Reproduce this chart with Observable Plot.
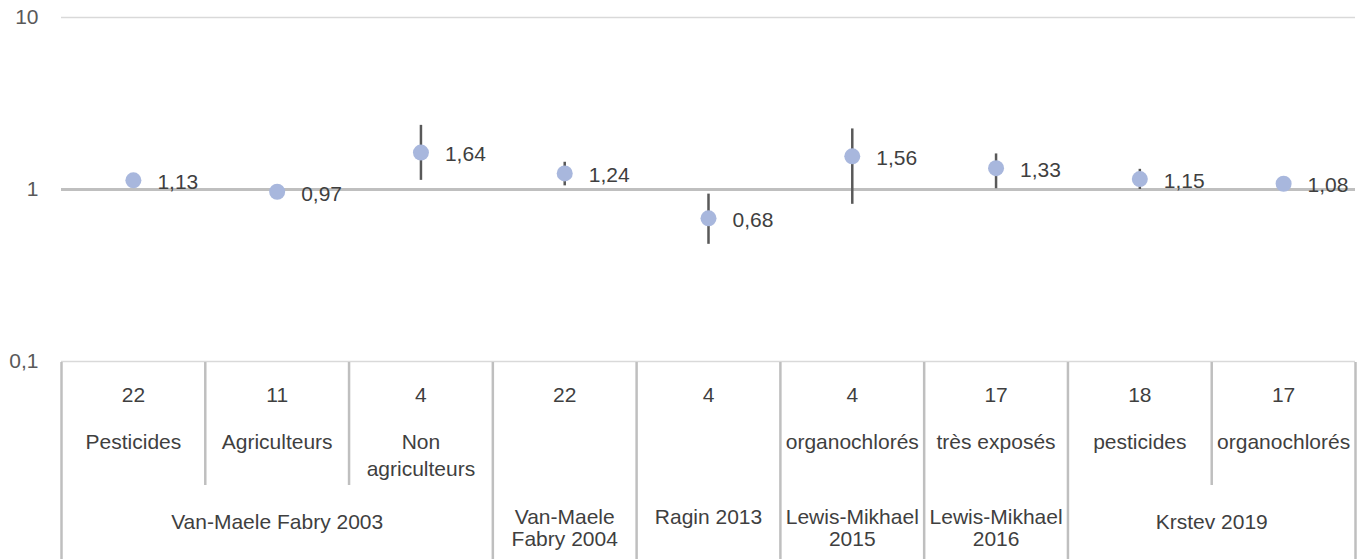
<!DOCTYPE html>
<html>
<head>
<meta charset="utf-8">
<script src="https://cdn.jsdelivr.net/npm/d3@7"></script>
<script src="https://cdn.jsdelivr.net/npm/@observablehq/plot@0.6"></script>
<style>
  html, body { margin: 0; padding: 0; background: #fff; }
  #chart svg { display: block; }
  #chart svg.table { margin-top: -14px; position: relative; }
</style>
</head>
<body>
<div id="chart"></div>
<script>
// ---- data ----
const counts    = [22, 11, 4, 22, 4, 4, 17, 18, 17];
const exposures = ["Pesticides", "Agriculteurs", "Non agriculteurs", "", "", "organochlorés", "très exposés", "pesticides", "organochlorés"];
const studies   = ["Van-Maele Fabry 2003", "Van-Maele Fabry 2003", "Van-Maele Fabry 2003", "Van-Maele Fabry 2004", "Ragin 2013", "Lewis-Mikhael 2015", "Lewis-Mikhael 2016", "Krstev 2019", "Krstev 2019"];
const estimates = [1.13, 0.97, 1.64, 1.24, 0.68, 1.56, 1.33, 1.15, 1.08];
const lower     = [null, null, 1.13, 1.05, 0.48, 0.82, 1.01, 1.0, null];
const upper     = [null, null, 2.36, 1.44, 0.94, 2.25, 1.61, 1.31, null];
const yTicks    = [0.1, 1, 10];

// ---- derived tables ----
const rows = estimates.map((v, i) => ({
  i, center: i + 0.5, value: v, lo: lower[i], hi: upper[i],
  n: counts[i], exposure: exposures[i], study: studies[i]
}));
const groups = d3.groups(rows, d => d.study).map(([study, rs]) => ({
  study, start: rs[0].i, end: rs[rs.length - 1].i + 1,
  center: (rs[0].i + rs[rs.length - 1].i + 1) / 2, span: rs.length
}));
const groupEdges = [0, ...groups.map(g => g.end)];
const subEdges = d3.range(1, rows.length).filter(e => !groupEdges.includes(e));

const W = 1372, ML = 61, MR = 17, FS = 21;
const fmt = d => String(d).replace(".", ",");
const font = "'Liberation Sans', Arial, sans-serif";
const ink = "#3f3f3f";

const main = Plot.plot({
  width: W, height: 376,
  marginLeft: ML, marginRight: MR, marginTop: 17, marginBottom: 15,
  style: { fontFamily: font, fontSize: FS + "px", color: "#595959", background: "#fff" },
  x: { type: "linear", domain: [0, rows.length], axis: null },
  y: { type: "log", domain: [0.1, 10], ticks: yTicks, tickFormat: fmt, tickSize: 0, tickPadding: 23, label: null },
  marks: [
    Plot.ruleY([10, 0.1], { stroke: "#d9d9d9", strokeWidth: 1.5 }),
    Plot.ruleY([1], { stroke: "#bfbfbf", strokeWidth: 3 }),
    Plot.ruleX(rows.filter(d => d.lo != null), { x: "center", y1: "lo", y2: "hi", stroke: "#595959", strokeWidth: 2.5 }),
    Plot.dot(rows, { x: "center", y: "value", r: 8, fill: "#a8b7dd", stroke: "none" }),
    Plot.text(rows, { x: "center", y: "value", text: d => fmt(d.value), dx: 24, dy: 2, textAnchor: "start", fill: ink, fontSize: FS })
  ]
});

// table below the plot, sharing the same x layout
const TH = 197;     // visible table height
const L1 = 123;     // bottom of the first level
const table = Plot.plot({
  width: W, height: TH,
  marginLeft: ML, marginRight: MR, marginTop: 0, marginBottom: 0,
  style: { fontFamily: font, fontSize: FS + "px", color: "#595959", background: "transparent" },
  x: { type: "linear", domain: [0, rows.length], axis: null },
  y: { type: "linear", domain: [TH, 0], axis: null },
  marks: [
    Plot.ruleX(groupEdges, { x: d => d, y1: 0, y2: TH, stroke: "#bfbfbf", strokeWidth: 2.5 }),
    Plot.ruleX(subEdges, { x: d => d, y1: 0, y2: L1, stroke: "#bfbfbf", strokeWidth: 2.5 }),
    Plot.text(rows, { x: "center", y: 33, text: d => String(d.n), fill: ink, fontSize: FS }),
    Plot.text(rows, { x: "center", y: 67, text: "exposure", lineAnchor: "top", lineWidth: 7.1, lineHeight: 1.3, fill: ink, fontSize: FS }),
    Plot.text(groups.filter(g => g.span > 1), { x: "center", y: 160, text: "study", fill: ink, fontSize: FS }),
    Plot.text(groups.filter(g => g.span === 1), { x: "center", y: 146, text: "study", lineAnchor: "top", lineWidth: 7.1, lineHeight: 1.05, fill: ink, fontSize: FS })
  ]
});
table.classList.add("table");

const root = document.getElementById("chart");
root.appendChild(main);
root.appendChild(table);
</script>
</body>
</html>
